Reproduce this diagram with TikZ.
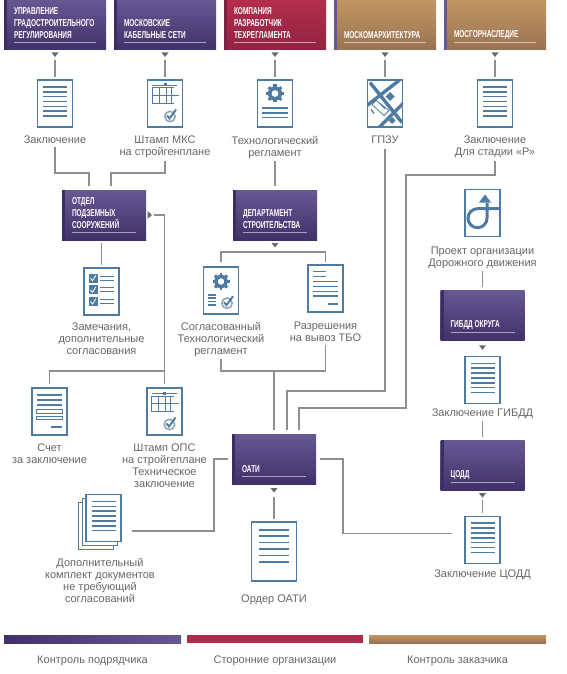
\documentclass[tikz,border=0pt]{standalone}
\usepackage{fontspec}
\setmainfont{Liberation Sans}
\newfontfamily\hdrfont[FakeStretch=0.65]{Liberation Sans}
\usetikzlibrary{positioning}
\usetikzlibrary{calc}

\definecolor{iconblue}{HTML}{4F7BA3}
\definecolor{linegray}{HTML}{8E8E8E}
\definecolor{labelgray}{HTML}{666666}
\definecolor{markgray}{HTML}{666A70}
\definecolor{ticklight}{HTML}{8FA8BF}
\definecolor{boxtop}{HTML}{655893}
\definecolor{boxbot}{HTML}{41316A}
\definecolor{boxstrip}{HTML}{3C2D62}
\definecolor{redtop}{HTML}{B32E4A}
\definecolor{redbot}{HTML}{8F2442}
\definecolor{redstrip}{HTML}{7E2040}
\definecolor{tantop}{HTML}{C29662}
\definecolor{tanbot}{HTML}{9A7253}

% icon contents, px from the icon centre
\newcommand{\doclines}[5]{\foreach \i in {1,...,#5}
    \draw[iconblue, line width=1.5pt] (#1,{#3+(\i-1)*#4}) -- (#2,{#3+(\i-1)*#4});}
\newcommand{\geartop}[3]{
    \draw[iconblue, line width=#3*0.42pt] (#1,#2) circle (#3*0.62);
    \foreach \a in {0,45,...,315}
        \draw[iconblue, line width=#3*0.34pt] ({#1+#3*0.7*cos(\a)},{#2+#3*0.7*sin(\a)}) -- ({#1+#3*cos(\a)},{#2+#3*sin(\a)});}
\newcommand{\tickround}[2]{
    \draw[ticklight, line width=1.6pt] (#1,#2) circle (5.2);
    \draw[iconblue, line width=1.9pt] ({#1-3},{#2-1}) -- ({#1-0.5},{#2+2}) -- ({#1+6},{#2-7});}
\newcommand{\stampplan}{
    \draw[iconblue, line width=0.6pt] (-13,-18.5) -- (12,-18.5);
    \fill[iconblue] (-1.5,-20) rectangle (1.5,-17);
    \draw[iconblue, line width=1pt] (-13,-15.5) -- (9,-15.5) (-13,-8) -- (14,-8) (-13,0) -- (9,0);
    \draw[iconblue, line width=1pt] (-13,-15.5) -- (-13,0) (-6,-15.5) -- (-6,0) (1,-15.5) -- (1,0) (6,-15.5) -- (6,0);
    \tickround{5}{13}}

\tikzset{
    docicon/.style={draw=iconblue, line width=1.3pt, fill=white, inner sep=0pt, outer sep=0pt, minimum width=35pt, minimum height=47pt},
    plaindoc/.style={docicon, path picture={\begin{scope}[shift={(path picture bounding box.center)}]\doclines{-12}{12}{-16.5}{4.85}{7}\end{scope}}},
    stampdoc/.style={docicon, path picture={\begin{scope}[shift={(path picture bounding box.center)}]\stampplan\end{scope}}},
    geardoc/.style={docicon, path picture={\begin{scope}[shift={(path picture bounding box.center)}]\geartop{0}{-10}{9}\doclines{-13}{12.5}{4.5}{4.8}{3}\end{scope}}},
    checkdoc/.style={docicon, path picture={\begin{scope}[shift={(path picture bounding box.center)}]
        \foreach \y in {-13.3,-1.7,10}{
            \fill[iconblue] (-13,\y-4.5) rectangle (-4,\y+4.5);
            \draw[white, line width=0.8pt] (-11,\y) -- (-9,\y+2.5) -- (-5.5,\y-3);
            \draw[iconblue, line width=1.2pt] (-1.5,\y-2) -- (12.5,\y-2) (-1.5,\y+2) -- (12.5,\y+2);}
        \end{scope}}},
    billdoc/.style={docicon, path picture={\begin{scope}[shift={(path picture bounding box.center)}]
        \doclines{-12.7}{12.7}{-16.7}{5}{3}
        \draw[iconblue, line width=0.9pt] (-12.7,-1.7) rectangle (12.7,1.7) (-12.7,5) rectangle (12.7,8.3);
        \draw[iconblue, line width=1.5pt] (1.7,15.7) -- (12.7,15.7);
        \end{scope}}},
    approvedoc/.style={docicon, path picture={\begin{scope}[shift={(path picture bounding box.center)}]
        \geartop{0}{-9}{8.5}\doclines{-13}{-5}{4.3}{3.35}{4}\tickround{6}{12.7}\end{scope}}},
    permitdoc/.style={docicon, path picture={\begin{scope}[shift={(path picture bounding box.center)}]
        \doclines{-12.5}{0}{-17}{5}{2}\doclines{-12.5}{12.5}{-7}{4.9}{4}
        \draw[iconblue, line width=1.5pt] (2,15.7) -- (12.7,15.7);\end{scope}}},
    mapdoc/.style={docicon, path picture={\begin{scope}[shift={(path picture bounding box.center)}]
        \draw[iconblue, line width=3.4pt] (-15,-21) -- (17,19) (14,-23) -- (-18,2) (-7,25) -- (18,0);
        \fill[iconblue] (5,-11.5) -- (9.5,-7) -- (5,-2.5) -- (0.5,-7) -- cycle;
        \fill[iconblue] (7,13.5) -- (10.5,17) -- (7,20.5) -- (3.5,17) -- cycle;
        \draw[iconblue, line width=0.8pt] (-9,-3) -- (4,7) -- (-1,12) -- (-13,1) -- cycle;
        \draw[iconblue, line width=1.3pt] (-5,0) -- (0,5) (-14,6) -- (-11,10);
        \end{scope}}},
    roaddoc/.style={docicon, path picture={\begin{scope}[shift={(path picture bounding box.center)}]
        \draw[iconblue, line width=3pt] (18,-4.3) -- (-5,-4.3) arc[start angle=270, end angle=90, radius=9.5] arc[start angle=90, end angle=0, radius=9.5] -- (4.5,-10);
        \fill[iconblue] (2.5,-18.5) -- (8.5,-10.5) -- (-3.5,-10.5) -- cycle;
        \end{scope}}},
    orderdoc/.style={docicon, line width=1.6pt, minimum width=45pt, minimum height=59pt, path picture={\begin{scope}[shift={(path picture bounding box.center)}]
        \foreach \y in {-21.5,-15.5,-9,-2.5,4,10.5}
            \draw[iconblue, line width=1.7pt] (-15,\y) -- (15,\y);\end{scope}}},
    purplefill/.style={top color=boxtop, bottom color=boxbot},
    redfill/.style={top color=redtop, bottom color=redbot},
    tanfill/.style={top color=tantop, bottom color=tanbot},
    hdrbase/.style={inner sep=0pt, outer sep=0pt, minimum height=50pt, text=white, align=left, font=\hdrfont\bfseries\fontsize{10}{12}\selectfont,
        path picture={
            \fill[#1] (path picture bounding box.north west) rectangle ([xshift=3pt]path picture bounding box.south west);
            \draw[white, opacity=0.55, line width=0.6pt] ([xshift=10pt,yshift=8pt]path picture bounding box.south west) -- ([xshift=-10pt,yshift=8pt]path picture bounding box.south east);}},
    hdrbox/.style={hdrbase=#1, minimum width=102pt},
    officebox/.style={hdrbase=boxstrip, purplefill, minimum width=84pt},
    link/.style={draw=linegray, line width=1.1pt},
    feed/.style={link, shorten <=10pt, shorten >=3pt},
    lbl/.style={align=center, inner sep=0pt, outer sep=0pt, text=labelgray, font=\fontsize{11}{12}\selectfont},
    legbar/.style={inner sep=0pt, outer sep=0pt, minimum height=8pt},
    downtri/.pic={\fill[markgray] (-3.5,0) -- (3.5,0) -- (0,4.5) -- cycle;},
    righttri/.pic={\fill[markgray] (0,-4) -- (0,4) -- (4.5,0) -- cycle;},
}
\newcommand{\boxtext}[2]{\parbox[c][50pt][b]{#1}{\raggedright #2\par\vspace{11pt}}}

\begin{document}
\begin{tikzpicture}[x=1pt, y=-1pt]
    \useasboundingbox (0,0) rectangle (567,674);

    % top row
    \node [hdrbox=boxstrip, purplefill, anchor=north west] (hdrugr) at (4,0) {\boxtext{82pt}{УПРАВЛЕНИЕ\\ГРАДОСТРОИТЕЛЬНОГО\\РЕГУЛИРОВАНИЯ}};
    \node [hdrbox=boxstrip, purplefill, right=8pt of hdrugr] (hdrmks) {\boxtext{82pt}{МОСКОВСКИЕ\\КАБЕЛЬНЫЕ СЕТИ}};
    \node [hdrbox=redstrip, redfill, right=8pt of hdrmks] (hdrkom) {\boxtext{82pt}{КОМПАНИЯ\\РАЗРАБОТЧИК\\ТЕХРЕГЛАМЕНТА}};
    \node [hdrbox=boxtop, tanfill, right=8pt of hdrkom] (hdrarch) {\boxtext{82pt}{МОСКОМАРХИТЕКТУРА}};
    \node [hdrbox=boxtop, tanfill, right=8pt of hdrarch] (hdrnasl) {\boxtext{82pt}{МОСГОРНАСЛЕДИЕ}};

    \node [plaindoc, below=30pt of hdrugr] (docugr) {};
    \node [stampdoc, below=30pt of hdrmks] (docmks) {};
    \node [geardoc, below=30pt of hdrkom] (docreg) {};
    \node [mapdoc, below=30pt of hdrarch] (docgpzu) {};
    \node [plaindoc, below=30pt of hdrnasl] (docnasl) {};

    \node [lbl, below=9pt of docugr] (lblugr) {Заключение};
    \node [lbl, below=9pt of docmks] (lblmks) {Штамп МКС\\на стройгенплане};
    \node [lbl, below=9pt of docreg] (lblreg) {Технологический\\регламент};
    \node [lbl, below=9pt of docgpzu] (lblgpzu) {ГПЗУ};
    \node [lbl, below=9pt of docnasl] (lblnasl) {Заключение\\Для стадии «Р»};

    % left column
    \node [officebox, anchor=north west] (otdel) at (62,190) {\boxtext{64pt}{ОТДЕЛ\\ПОДЗЕМНЫХ\\СООРУЖЕНИЙ}};
    \node [checkdoc, below=28pt of otdel, xshift=-2.5pt] (doczam) {};
    \node [lbl, below=8pt of doczam] (lblzam) {Замечания,\\дополнительные\\согласования};
    \node [billdoc] (docbill) at (49.5,411.5) {};
    \node [stampdoc, right=80pt of docbill] (docops) {};
    \node [lbl, below=9pt of docbill] (lblbill) {Счет\\за заключение};
    \node [lbl, below=9pt of docops] (lblops) {Штамп ОПС\\на стройгеплане\\Техническое\\заключение};

    \node [docicon] (stackc) at (96,526) {};
    \node [docicon] (stackb) at (100,522) {};
    \node [plaindoc] (stacka) at (103.5,518) {};
    \node [lbl, below=9pt of stackc, xshift=4pt] (lblstack) {Дополнительный\\комплект документов\\не требующий\\согласований};

    % middle column
    \node [officebox, right=87pt of otdel] (dept) {\boxtext{64pt}{ДЕПАРТАМЕНТ\\СТРОИТЕЛЬСТВА}};
    \node [approvedoc] (docsogl) at (221,290.5) {};
    \node [permitdoc] (docperm) at (325.5,288.5) {};
    \node [lbl, below=8pt of docsogl] (lblsogl) {Согласованный\\Технологический\\регламент};
    \node [lbl, below=10pt of docperm] (lblperm) {Разрешения\\на вывоз ТБО};
    \node [officebox, anchor=north west] (oati) at (232,434) {\boxtext{64pt}{ОАТИ}};
    \node [orderdoc, below=38pt of oati] (docorder) {};
    \node [lbl, below=14pt of docorder] (lblorder) {Ордер ОАТИ};

    % right column
    \node [roaddoc] (docroad) at (482.5,213) {};
    \node [lbl, below=10pt of docroad] (lblroad) {Проект организации\\Дорожного движения};
    \node [officebox, below=22pt of lblroad] (gibdd) {\boxtext{64pt}{ГИБДД ОКРУГА}};
    \node [plaindoc, below=16pt of gibdd] (docgibdd) {};
    \node [lbl, below=5pt of docgibdd] (lblgibdd) {Заключение ГИБДД};
    \node [officebox, below=22pt of lblgibdd] (tsodd) {\boxtext{64pt}{ЦОДД}};
    \node [plaindoc, below=26pt of tsodd] (doctsodd) {};
    \node [lbl, below=7pt of doctsodd] (lbltsodd) {Заключение ЦОДД};

    % legend
    \node [legbar, minimum width=177pt, left color=boxbot, right color=boxtop, anchor=west] (barpod) at (4,639) {};
    \node [legbar, minimum width=176pt, fill=redtop!85!redbot, right=6pt of barpod] (barstor) {};
    \node [legbar, minimum width=177pt, tanfill, right=6pt of barstor] (barzak) {};
    \node [lbl, below=13pt of barpod] (lblpod) {Контроль подрядчика};
    \node [lbl, below=13pt of barstor] (lblstor) {Сторонние организации};
    \node [lbl, below=13pt of barzak] (lblzak) {Контроль заказчика};

    % markers
    \pic at ([yshift=-2.5pt]hdrugr.south) {downtri};
    \pic at ([yshift=-2.5pt]hdrmks.south) {downtri};
    \pic at ([yshift=-2.5pt]hdrkom.south) {downtri};
    \pic at ([yshift=-2.5pt]hdrarch.south) {downtri};
    \pic at ([yshift=-2.5pt]hdrnasl.south) {downtri};
    \pic at ([yshift=-3pt]dept.south) {downtri};
    \pic at ([yshift=-4pt]oati.south) {downtri};
    \pic at ([yshift=-5pt]gibdd.south) {downtri};
    \pic at ([yshift=-3pt]tsodd.south) {downtri};
    \pic at ([xshift=1.5pt]otdel.east) {righttri};

    % top connectors
    \draw [feed] (hdrugr) -- (docugr);
    \draw [feed] (hdrmks) -- (docmks);
    \draw [feed] (hdrkom) -- (docreg);
    \draw [feed] (hdrarch) -- (docgpzu);
    \draw [feed] (hdrnasl) -- (docnasl);

    \coordinate (otdelina) at ([xshift=-15pt,yshift=4pt]otdel.north);
    \coordinate (otdelinb) at ([xshift=7pt,yshift=4pt]otdel.north);
    \draw [link, shorten <=3pt] (lblugr.south) -- (lblugr.south |- 0,173) -| (otdelina);
    \draw [link, shorten <=3pt] (lblmks.south) -- (lblmks.south |- 0,173) -| (otdelinb);
    \draw [link, shorten <=3pt, shorten >=4pt] (lblreg.south) -- (lblreg.south |- dept.north);

    % left branch
    \draw [link, shorten <=3pt, shorten >=3pt] (doczam.north |- otdel.south) -- (doczam.north);
    \coordinate (otdelout) at ([xshift=8pt]otdel.east);
    \coordinate (opsin) at ([yshift=4pt]docops.north);
    \coordinate (billin) at ([yshift=4pt]docbill.north);
    \draw [link] (otdelout) -- (otdelout -| opsin) -- (opsin);
    \draw [link] (opsin |- 0,371) -- (billin |- 0,371) -- (billin);

    % department outputs
    \coordinate (soglin) at ([yshift=5pt]docsogl.north);
    \coordinate (permin) at ([yshift=3pt]docperm.north);
    \draw [link] (soglin) |- (permin |- 0,252) -- (permin);

    % into OATI
    \coordinate (oatiina) at ([yshift=4pt]oati.north);
    \coordinate (oatiinb) at ([xshift=13pt,yshift=4pt]oati.north);
    \coordinate (oatiinc) at ([xshift=25pt,yshift=4pt]oati.north);
    \draw [link, shorten <=3pt] (lblsogl.south) -- (lblsogl.south |- 0,371) -| ([yshift=-3pt]lblperm.south);
    \draw [link] (oatiina |- 0,371) -- (oatiina);
    \draw [link, shorten <=5pt] (lblgpzu.south) -- (lblgpzu.south |- 0,391) -| (oatiinb);
    \draw [link, shorten <=3pt] (lblnasl.south) -- (lblnasl.south |- 0,175) -| (406,408) -| (oatiinc);

    % around OATI
    \coordinate (oatiout) at ([xshift=4pt]oati.east);
    \coordinate (tsoddin) at ([xshift=-13pt,yshift=6.5pt]doctsodd.west);
    \coordinate (stackout) at ([xshift=11pt]stacka.east |- 0,531);
    \coordinate (oatiwest) at ([xshift=-4pt]oati.west);
    \draw [link] (oatiout) -- (oatiout -| 343,0) |- (tsoddin);
    \draw [link] (stackout) -- (214,531) |- (oatiwest);
    \draw [link, shorten <=13pt, shorten >=3pt] (oati.south) -- (docorder.north);

    % right column connectors
    \draw [link, shorten <=3pt, shorten >=3pt] (lblroad) -- (gibdd);
    \draw [link, shorten <=3pt, shorten >=3pt] (lblgibdd) -- (tsodd);
    \draw [link, shorten <=10pt, shorten >=3pt] (tsodd) -- (doctsodd);
\end{tikzpicture}
\end{document}
